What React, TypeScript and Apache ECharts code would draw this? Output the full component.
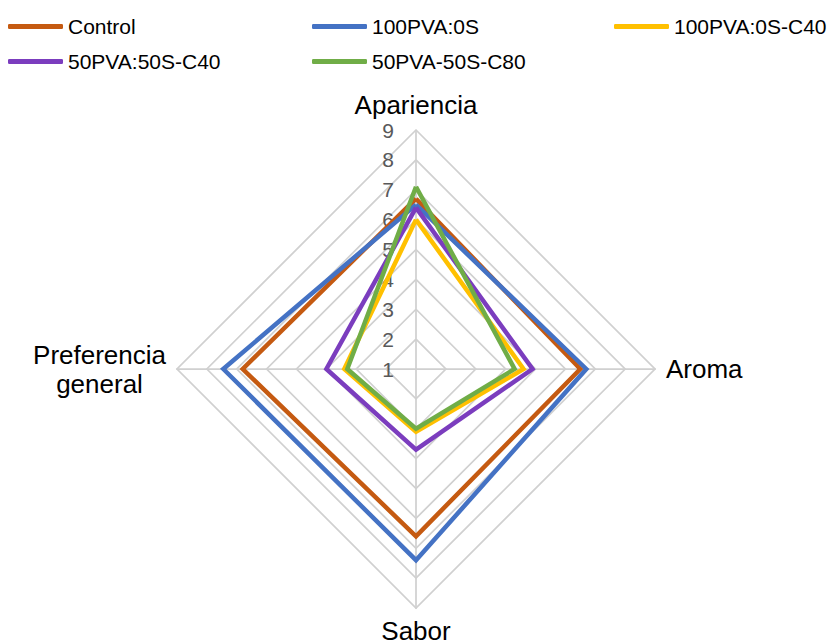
import React, { useEffect, useRef } from "react";
import * as echarts from "echarts";

// Attribute order: Apariencia, Aroma, Sabor, Preferencia general
const attributes = ["Apariencia", "Aroma", "Sabor", "Preferencia\ngeneral"];
const seriesNames = ["Control", "100PVA:0S", "100PVA:0S-C40", "50PVA:50S-C40", "50PVA-50S-C80"];
const control = [6.7, 6.5, 6.6, 6.8];
const pva100 = [6.5, 6.7, 7.4, 7.45];
const pva100c40 = [6.0, 4.6, 3.1, 3.4];
const pva50c40 = [6.4, 4.9, 3.7, 4.0];
const pva50c80 = [7.1, 4.3, 3.0, 3.3];
const seriesValues = [control, pva100, pva100c40, pva50c40, pva50c80];
const colors = ["#C55A11", "#4472C4", "#FFC000", "#7B3DBE", "#70AD47"];
const axisMin = 1;
const axisMax = 9;

// ECharts lays indicators counter-clockwise from the top
const drawOrder = [0, 3, 2, 1];

const FONT = "'Liberation Sans', Arial, sans-serif";

export default function App() {
  const ref = useRef<HTMLDivElement>(null);
  useEffect(() => {
    document.body.style.margin = "0";
    const chart = echarts.init(ref.current!, null, { renderer: "svg" });
    const legendPos = [
      [8, 16],
      [312, 16],
      [614, 16],
      [8, 51],
      [312, 51],
    ];
    const option: any = {
      animation: false,
      textStyle: { fontFamily: FONT },
      legend: seriesNames.map((n, i) => ({
        data: [n],
        left: legendPos[i][0],
        top: legendPos[i][1],
        padding: 0,
        itemWidth: 55,
        itemHeight: 5,
        icon: "roundRect",
        textStyle: { fontSize: 21, color: "#000", fontFamily: FONT },
      })),
      radar: {
        center: [416, 369],
        radius: 239,
        startAngle: 90,
        shape: "polygon",
        splitNumber: axisMax - axisMin,
        nameGap: 11,
        axisName: {
          color: "#000",
          fontSize: 26,
          fontFamily: FONT,
          lineHeight: 29,
          formatter: (v: string) =>
            v
              .split("\n")
              .map((s) => `{c|${s}}`)
              .join("\n"),
          rich: { c: { align: "center", fontSize: 26, lineHeight: 29, fontFamily: FONT, color: "#000" } },
        },
        indicator: drawOrder.map((k, j) => ({
          name: attributes[k],
          min: axisMin,
          max: axisMax,
          ...(j === 0 ? {} : { axisLabel: { show: false } }),
          ...(k === 2 ? { nameGap: 8 } : {}),
        })),
        axisLabel: {
          show: true,
          fontSize: 21,
          color: "#595959",
          fontFamily: FONT,
          margin: 22,
        },
        axisTick: { show: false },
        axisLine: { lineStyle: { color: "#d0d0d0", width: 1.75 } },
        splitLine: { lineStyle: { color: "#d0d0d0", width: 1.75 } },
        splitArea: { show: false },
      },
      series: [
        {
          type: "radar",
          symbol: "none",
          data: seriesNames.map((n, i) => ({
            name: n,
            value: drawOrder.map((k) => seriesValues[i][k]),
            lineStyle: { color: colors[i], width: 4.5, join: "miter" },
            itemStyle: { color: colors[i] },
          })),
        },
      ],
    };
    chart.setOption(option);
    return () => chart.dispose();
  }, []);
  return <div ref={ref} style={{ width: 830, height: 644 }} />;
}
